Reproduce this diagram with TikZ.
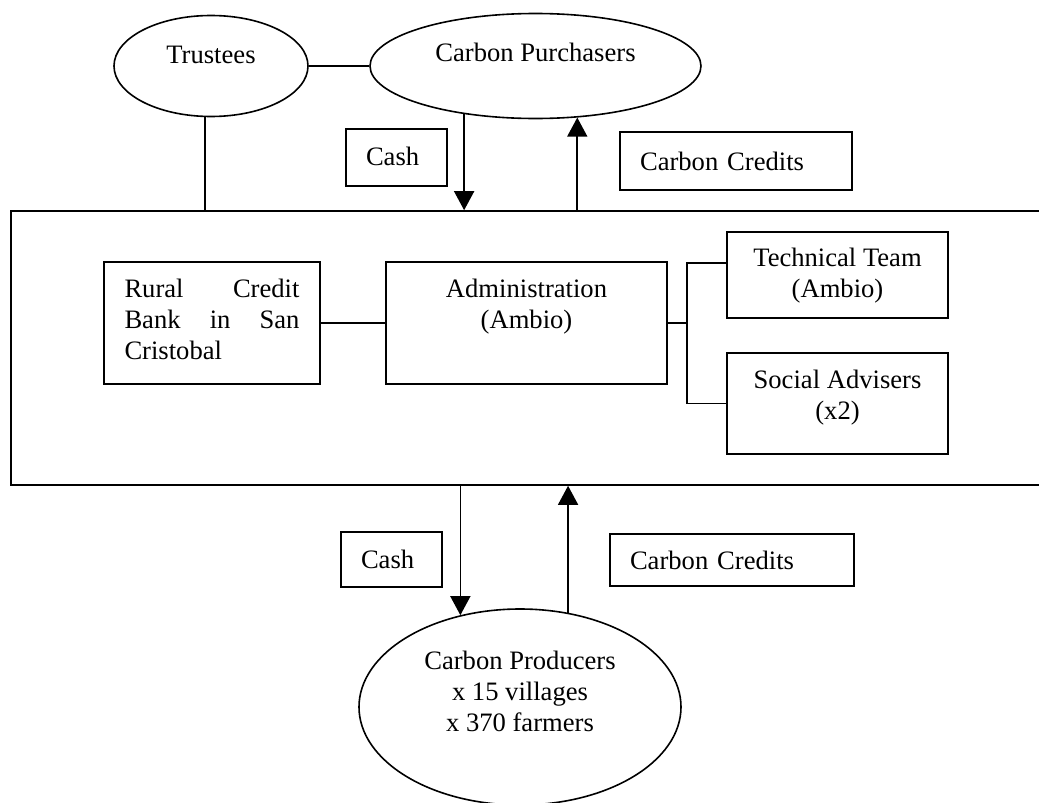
\documentclass[tikz,border=0pt]{standalone}
\usepackage{fontspec}
\setmainfont{Liberation Serif}
\usetikzlibrary{positioning, arrows.meta, shapes.geometric}
\hyphenpenalty=10000
\tolerance=10000

\begin{document}
\begin{tikzpicture}[
  x=0.5pt, y=-0.5pt,
  line width=0.8pt,
  every node/.style={font=\fontsize{13.3}{15.5}\selectfont, inner sep=0pt},
  party/.style={draw, ellipse, align=center, text height=9pt},
  box/.style={draw, rectangle, align=center},
  tag/.style={draw, rectangle, align=left},
  flow/.style={-{Triangle[width=10pt, length=9.5pt]}}
]
\useasboundingbox (0,0) rectangle (1039,803);
\clip (0,0) rectangle (1039,803);

% outer frame, runs off the right edge
\node[draw, minimum width=517pt, minimum height=137pt] (frame) at (528,348) {};

% parties
\node[party, minimum width=97pt, minimum height=50.5pt, text depth=12pt] (trustees) at (211,66) {Trustees};
\node[party, minimum width=165.5pt, minimum height=52.5pt, text depth=13.5pt] (purchasers) at (535.5,66) {Carbon Purchasers};
\node[party, minimum width=161pt, minimum height=98pt, text height=40pt, text depth=16pt] (producers) at (520,707) {Carbon Producers\\x 15 villages\\x 370 farmers};

% flow labels
\node[tag, minimum width=50.5pt, text width=30.5pt, text height=18pt, text depth=10.5pt] (cashTop) at (396.5,157.5) {Cash};
\node[tag, minimum width=116pt, text width=96pt, text height=19pt, text depth=10pt] (creditTop) at (736,161) {Carbon Credits};
\node[tag, minimum width=50.5pt, text width=30.5pt, text height=18pt, text depth=9.5pt] (cashLow) at (391.5,559.5) {Cash};
\node[tag, minimum width=122pt, text width=102pt, text height=17.5pt, text depth=8.5pt] (creditLow) at (732,560) {Carbon Credits};

% inside the frame
\node[box, align=justify, minimum width=108pt, text width=87.5pt, text height=17.5pt, text depth=43.5pt] (bank) at (212,323) {Rural Credit Bank in San Cristobal};
\node[box, minimum width=140.5pt, text height=33pt, text depth=28pt] (admin) at (526.5,323) {Administration\\(Ambio)};
\node[box, minimum width=110.5pt, text height=32.5pt, text depth=10.5pt] (tech) at (837.5,275) {Technical Team\\(Ambio)};
\node[box, minimum width=110.5pt, text height=33pt, text depth=17.5pt] (social) at (837.5,403.5) {Social Advisers\\(x2)};

% links
\draw (trustees.east) -- (purchasers.west);
\draw (trustees.263) -- (trustees.263 |- frame.north);
\draw[flow] (purchasers.214) -- (purchasers.214 |- frame.north);
\draw[flow] (purchasers.309 |- frame.north) -- (purchasers.309);
\draw[flow] (frame.south -| producers.123) -- (producers.123);
\draw[flow] (producers.63) -- (producers.63 |- frame.south);

\draw (bank) -- (admin);
\coordinate[right=9.5pt of admin.east] (fork);
\draw (admin.east) -- (fork);
\draw ([yshift=6pt]tech.west) -| (fork) |- (social.west);
\end{tikzpicture}
\end{document}
